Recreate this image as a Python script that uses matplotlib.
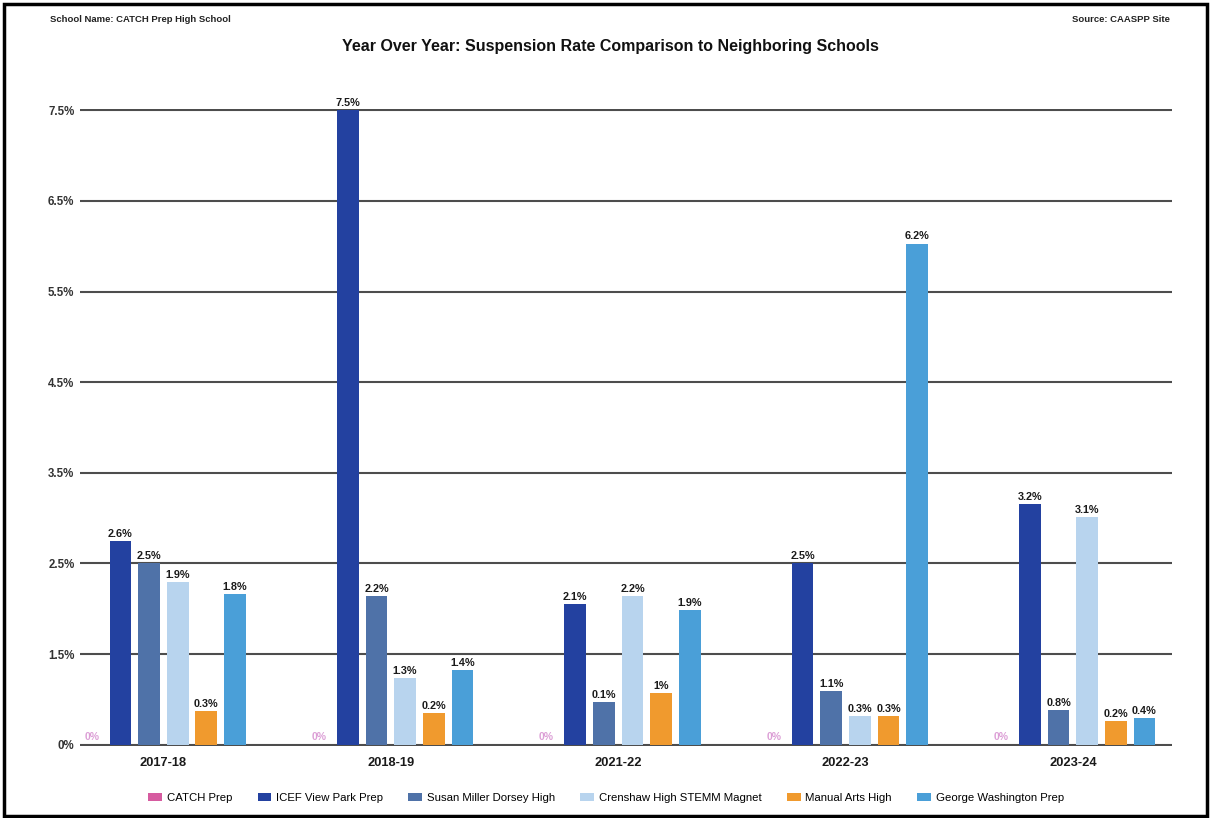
import numpy as np
import matplotlib.pyplot as plt
from matplotlib.patches import Rectangle

plt.rcParams['font.family'] = ['Liberation Sans', 'DejaVu Sans']

years = ["2017-18", "2018-19", "2021-22", "2022-23", "2023-24"]
schools = ["CATCH Prep", "ICEF View Park Prep", "Susan Miller Dorsey High",
           "Crenshaw High STEMM Magnet", "Manual Arts High", "George Washington Prep"]
colores = ["#d65ba0", "#2341a0", "#4f72a8", "#b8d4ee", "#f09a2e", "#4a9fd8"]

# printed suspension rates (%), one value per year
catch_prep  = [0, 0, 0, 0, 0]
icef        = [2.6, 7.5, 2.1, 2.5, 3.2]
dorsey      = [2.5, 2.2, 0.1, 1.1, 0.8]
crenshaw    = [1.9, 1.3, 2.2, 0.3, 3.1]
manual_arts = [0.3, 0.2, 1, 0.3, 0.2]
washington  = [1.8, 1.4, 1.9, 6.2, 0.4]

# bar heights as drawn, measured in gridline steps
# (the y axis labels are evenly spaced: 0, 1.5, 2.5 ... 7.5)
alto_catch      = [0, 0, 0, 0, 0]
alto_icef       = [2.25, 7.0, 1.55, 2.0, 2.66]
alto_dorsey     = [2.0, 1.64, 0.47, 0.59, 0.38]
alto_crenshaw   = [1.79, 0.73, 1.64, 0.32, 2.51]
alto_manual     = [0.37, 0.35, 0.57, 0.32, 0.26]
alto_washington = [1.66, 0.82, 1.49, 5.53, 0.29]

ytick_labels = ["0%", "1.5%", "2.5%", "3.5%", "4.5%", "5.5%", "6.5%", "7.5%"]

tasas = [catch_prep, icef, dorsey, crenshaw, manual_arts, washington]
alturas = [alto_catch, alto_icef, alto_dorsey, alto_crenshaw, alto_manual, alto_washington]

W, H = 1212, 818
fig = plt.figure(figsize=(W / 100, H / 100), dpi=100)
ax = fig.add_axes([80 / W, 1 - 746 / H, (1172 - 80) / W, (746 - 109) / H])

x = np.arange(len(years))
paso = 0.126
ancho = 0.096

for i in range(len(schools)):
    xs = x + (i - 2.5) * paso
    ax.bar(xs, alturas[i], ancho, color=colores[i], label=schools[i],
           zorder=3, linewidth=0)
    for xi, h, v in zip(xs, alturas[i], tasas[i]):
        txt = f"{v:g}%"
        if i == 0:
            ax.text(xi, 0.03, txt, ha='center', va='bottom', fontsize=7.5,
                    color='#dc9fd6', fontweight='bold', zorder=4)
        else:
            ax.annotate(txt, (xi, h), xytext=(0, 1.5), textcoords='offset points',
                        ha='center', va='bottom', fontsize=7.8, fontweight='bold',
                        color='#1a1a1a', zorder=4, annotation_clip=False)

ax.set_xlim(-0.367, 4.436)
ax.set_ylim(-0.015, 7.015)
ax.set_yticks(range(len(ytick_labels)))
ax.set_yticklabels(ytick_labels, fontsize=8.3, fontweight='bold', color='#333333')
ax.set_xticks(x)
ax.set_xticklabels(years, fontsize=9.3, fontweight='bold', color='#1a1a1a')
ax.tick_params(axis='y', length=0, pad=4)
ax.tick_params(axis='x', length=0, pad=8)
ax.yaxis.grid(True, color='#4d4d4d', linewidth=1.5)
ax.set_axisbelow(True)
for s in ax.spines.values():
    s.set_visible(False)

fig.text(50 / W, 1 - 20 / H, "School Name: CATCH Prep High School", fontsize=6.8,
         fontweight='bold', ha='left', va='center', color='#222222')
fig.text(1170 / W, 1 - 20 / H, "Source: CAASPP Site", fontsize=6.8,
         fontweight='bold', ha='right', va='center', color='#222222')
fig.text(610 / W, 1 - 46 / H, "Year Over Year: Suspension Rate Comparison to Neighboring Schools",
         fontsize=11.5, fontweight='bold', ha='center', va='center', color='#111111')

fig.legend(loc='center', bbox_to_anchor=(606 / W, 1 - 798 / H), ncol=6, frameon=False,
           fontsize=8.2, handlelength=1.2, handleheight=0.6, handletextpad=0.4,
           columnspacing=2.25)

fig.patches.append(Rectangle((4 / W, 2 / H), (1207 - 4) / W, (816 - 4) / H,
                             transform=fig.transFigure, fill=False,
                             edgecolor='black', linewidth=2.5))

fig.savefig("out.png", dpi=100)
